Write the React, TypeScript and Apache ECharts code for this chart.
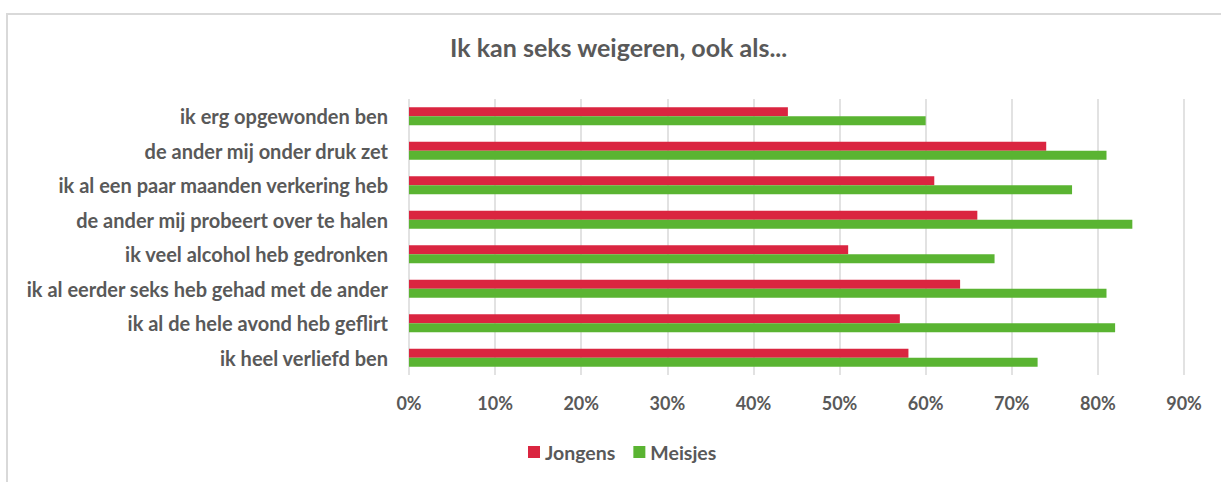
import React, { useEffect, useRef } from "react";
import * as echarts from "echarts";

const categories = [
  "ik erg opgewonden ben",
  "de ander mij onder druk zet",
  "ik al een paar maanden verkering heb",
  "de ander mij probeert over te halen",
  "ik veel alcohol heb gedronken",
  "ik al eerder seks heb gehad met de ander",
  "ik al de hele avond heb geflirt",
  "ik heel verliefd ben",
];
const jongens = [44, 74, 61, 66, 51, 64, 57, 58];
const meisjes = [60, 81, 77, 84, 68, 81, 82, 73];
const titleText = "Ik kan seks weigeren, ook als...";

const FONT = "Lato, 'Open Sans', sans-serif";
const TEXT = "#595959";

export default function App() {
  const ref = useRef<HTMLDivElement>(null);
  useEffect(() => {
    if (!ref.current) return;
    const chart = echarts.init(ref.current, null, { renderer: "svg" });
    chart.setOption({
      animation: false,
      backgroundColor: "#ffffff",
      title: {
        text: titleText,
        left: 450,
        top: 34,
        padding: 0,
        textStyle: { fontFamily: FONT, fontSize: 25, fontWeight: "bold", color: TEXT },
      },
      legend: {
        data: ["Jongens", "Meisjes"],
        top: 442,
        left: 528,
        padding: 0,
        itemWidth: 12,
        itemHeight: 12,
        itemGap: 18,
        icon: "rect",
        textStyle: { fontFamily: FONT, fontSize: 19.5, fontWeight: "bold", color: TEXT },
      },
      grid: { left: 409, right: 37, top: 99, bottom: 107, containLabel: false },
      xAxis: {
        type: "value",
        min: 0,
        max: 90,
        interval: 10,
        axisLine: { show: false },
        axisTick: { show: false },
        splitLine: { show: true, lineStyle: { color: "#d9d9d9", width: 1.5 } },
        axisLabel: {
          formatter: "{value}%",
          margin: 19,
          fontFamily: FONT,
          fontSize: 18,
          fontWeight: "bold",
          color: TEXT,
        },
      },
      yAxis: {
        type: "category",
        data: categories,
        inverse: true,
        axisLine: { show: false },
        axisTick: { show: false },
        axisLabel: {
          margin: 21,
          fontFamily: FONT,
          fontSize: 20,
          fontWeight: "bold",
          color: TEXT,
        },
      },
      series: [
        {
          name: "Jongens",
          type: "bar",
          data: jongens,
          barWidth: 9,
          barGap: "0%",
          itemStyle: { color: "#DA2540" },
        },
        {
          name: "Meisjes",
          type: "bar",
          data: meisjes,
          barWidth: 9,
          barGap: "0%",
          itemStyle: { color: "#5AB432" },
        },
      ],
      graphic: [
        {
          type: "polyline",
          shape: { points: [[7, 482], [7, 14], [1221, 14]] },
          style: { stroke: "#d9d9d9", lineWidth: 2, fill: null },
          silent: true,
        },
      ],
    });
    return () => chart.dispose();
  }, []);
  return (
    <div
      ref={ref}
      style={{ position: "fixed", left: 0, top: 0, width: 1221, height: 482 }}
    />
  );
}
